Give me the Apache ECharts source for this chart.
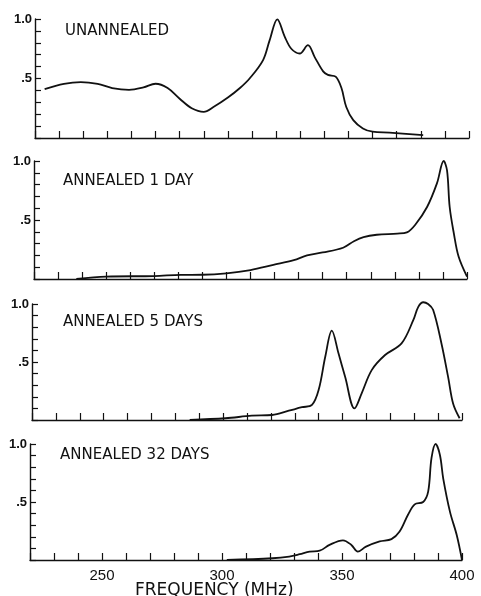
<!DOCTYPE html>
<html>
<head>
<meta charset="utf-8">
<script src="https://cdn.jsdelivr.net/npm/echarts@6/dist/echarts.min.js"></script>
<style>
html,body{margin:0;padding:0;background:#fff;}
#chart{width:481px;height:596px;}
</style>
</head>
<body>
<div id="chart"></div>
<script>
// Panel titles
var panelTitles = ['UNANNEALED', 'ANNEALED 1 DAY', 'ANNEALED 5 DAYS', 'ANNEALED 32 DAYS'];
var xAxisTitle = 'FREQUENCY (MHz)';
// Axis ticks
var xTickLabels = [250, 300, 350, 400];
var yTickLabels = { '1': '1.0', '0.5': '.5' };

// Unannealed
var freqUnannealed = [224,232,239,246,252,259,265,270,275,280,285,290,294,300,305,309,314.6,317.3,320.5,323.6,326.3,329.8,333.2,336,339.5,341.5,344.7,347.1,349.1,352,356,360,367,381];
var valUnannealed  = [0.41,0.455,0.47,0.455,0.42,0.405,0.425,0.456,0.42,0.33,0.25,0.22,0.26,0.34,0.42,0.5,0.655,0.82,0.997,0.85,0.75,0.71,0.78,0.68,0.56,0.53,0.515,0.42,0.26,0.15,0.08,0.053,0.045,0.025];

// Annealed 1 day
var freq1Day = [237.6,250,270,281,290,300,310,319.5,328,333.5,340,348.5,353,357,362.5,371,375,378.5,383.4,387.5,390.3,391.7,392.8,394.5,396.5,400];
var val1Day  = [0,0.02,0.025,0.035,0.036,0.048,0.076,0.12,0.16,0.2,0.225,0.265,0.32,0.355,0.375,0.385,0.395,0.46,0.61,0.81,1.0,0.92,0.61,0.39,0.19,0.02];

// Annealed 5 days
var freq5Days = [286,301,312,320.5,327.5,333,337.2,340,342.8,345.5,348.3,351.1,355,358,362.2,367.8,374.7,379.6,381.7,383.8,385.8,387.9,391.4,394.2,396.3,399];
var val5Days  = [0,0.015,0.037,0.043,0.08,0.11,0.13,0.26,0.55,0.77,0.575,0.37,0.10,0.23,0.43,0.56,0.66,0.86,0.975,1.015,1.0,0.95,0.66,0.37,0.14,0.015];

// Annealed 32 days
var freq32Days = [302,321,328,332.4,336.5,340.7,344.8,350.4,353.9,356.6,360,365.7,370.6,374,377.5,380.3,383.8,385.9,387.3,389,390.8,392.2,395,397.8,400];
var val32Days  = [0,0.015,0.03,0.05,0.072,0.08,0.13,0.17,0.13,0.072,0.115,0.16,0.18,0.245,0.39,0.48,0.50,0.59,0.88,1.0,0.905,0.70,0.415,0.215,0.0];

var seriesFreq = [freqUnannealed, freq1Day, freq5Days, freq32Days];
var seriesVal = [valUnannealed, val1Day, val5Days, val32Days];

var grids = [
  {left: 35, width: 434, top: 19, height: 119},
  {left: 34, width: 433, top: 161, height: 118},
  {left: 32, width: 430, top: 304, height: 116},
  {left: 30, width: 432, top: 444, height: 116}
];
var titlePos = [[65, 31], [63, 181], [63, 322], [60, 455]];

var ink = '#111';
var xAxes = [], yAxes = [], series = [], graphics = [];
for (var i = 0; i < 4; i++) {
  var last = (i === 3);
  xAxes.push({
    type: 'value', gridIndex: i, min: 220, max: 400, interval: 10,
    axisLine: {show: true, onZero: false, lineStyle: {color: ink, width: 1.4}},
    axisTick: {show: true, inside: true, length: 7, lineStyle: {color: ink, width: 1.2}},
    splitLine: {show: false},
    axisLabel: {
      show: last, margin: 8, color: ink, fontSize: 15, fontFamily: 'Liberation Sans',
      formatter: function (v) { return xTickLabels.indexOf(Math.round(v)) >= 0 ? String(Math.round(v)) : ''; }
    }
  });
  yAxes.push({
    type: 'value', gridIndex: i, min: 0, max: 1, interval: 0.1,
    axisLine: {show: true, lineStyle: {color: ink, width: 1.4}},
    axisTick: {show: true, inside: true, length: 6, lineStyle: {color: ink, width: 1.2}},
    splitLine: {show: false},
    axisLabel: {
      show: true, margin: 3, color: ink, fontSize: 13, fontFamily: 'Liberation Sans', fontWeight: 'bold',
      formatter: function (v) {
        if (Math.abs(v - 1) < 1e-6) return yTickLabels['1'];
        if (Math.abs(v - 0.5) < 1e-6) return yTickLabels['0.5'];
        return '';
      }
    }
  });
  var f = seriesFreq[i], vals = seriesVal[i];
  series.push({
    type: 'line', xAxisIndex: i, yAxisIndex: i,
    data: f.map(function (x, k) { return [x, vals[k]]; }),
    smooth: 0.35, showSymbol: false, symbol: 'none', clip: false,
    lineStyle: {color: ink, width: 1.8},
    silent: true, animation: false
  });
  graphics.push({
    type: 'text', x: titlePos[i][0], y: titlePos[i][1],
    style: {text: panelTitles[i], fill: ink, font: '15px "DejaVu Sans"', textVerticalAlign: 'middle'}
  });
}
graphics.push({
  type: 'text', x: 135, y: 591,
  style: {text: xAxisTitle, fill: ink, font: '17px "DejaVu Sans"', textVerticalAlign: 'middle'}
});

var chart = echarts.init(document.getElementById('chart'));
chart.setOption({
  animation: false,
  backgroundColor: '#fff',
  grid: grids,
  xAxis: xAxes,
  yAxis: yAxes,
  series: series,
  graphic: graphics
});
</script>
</body>
</html>
